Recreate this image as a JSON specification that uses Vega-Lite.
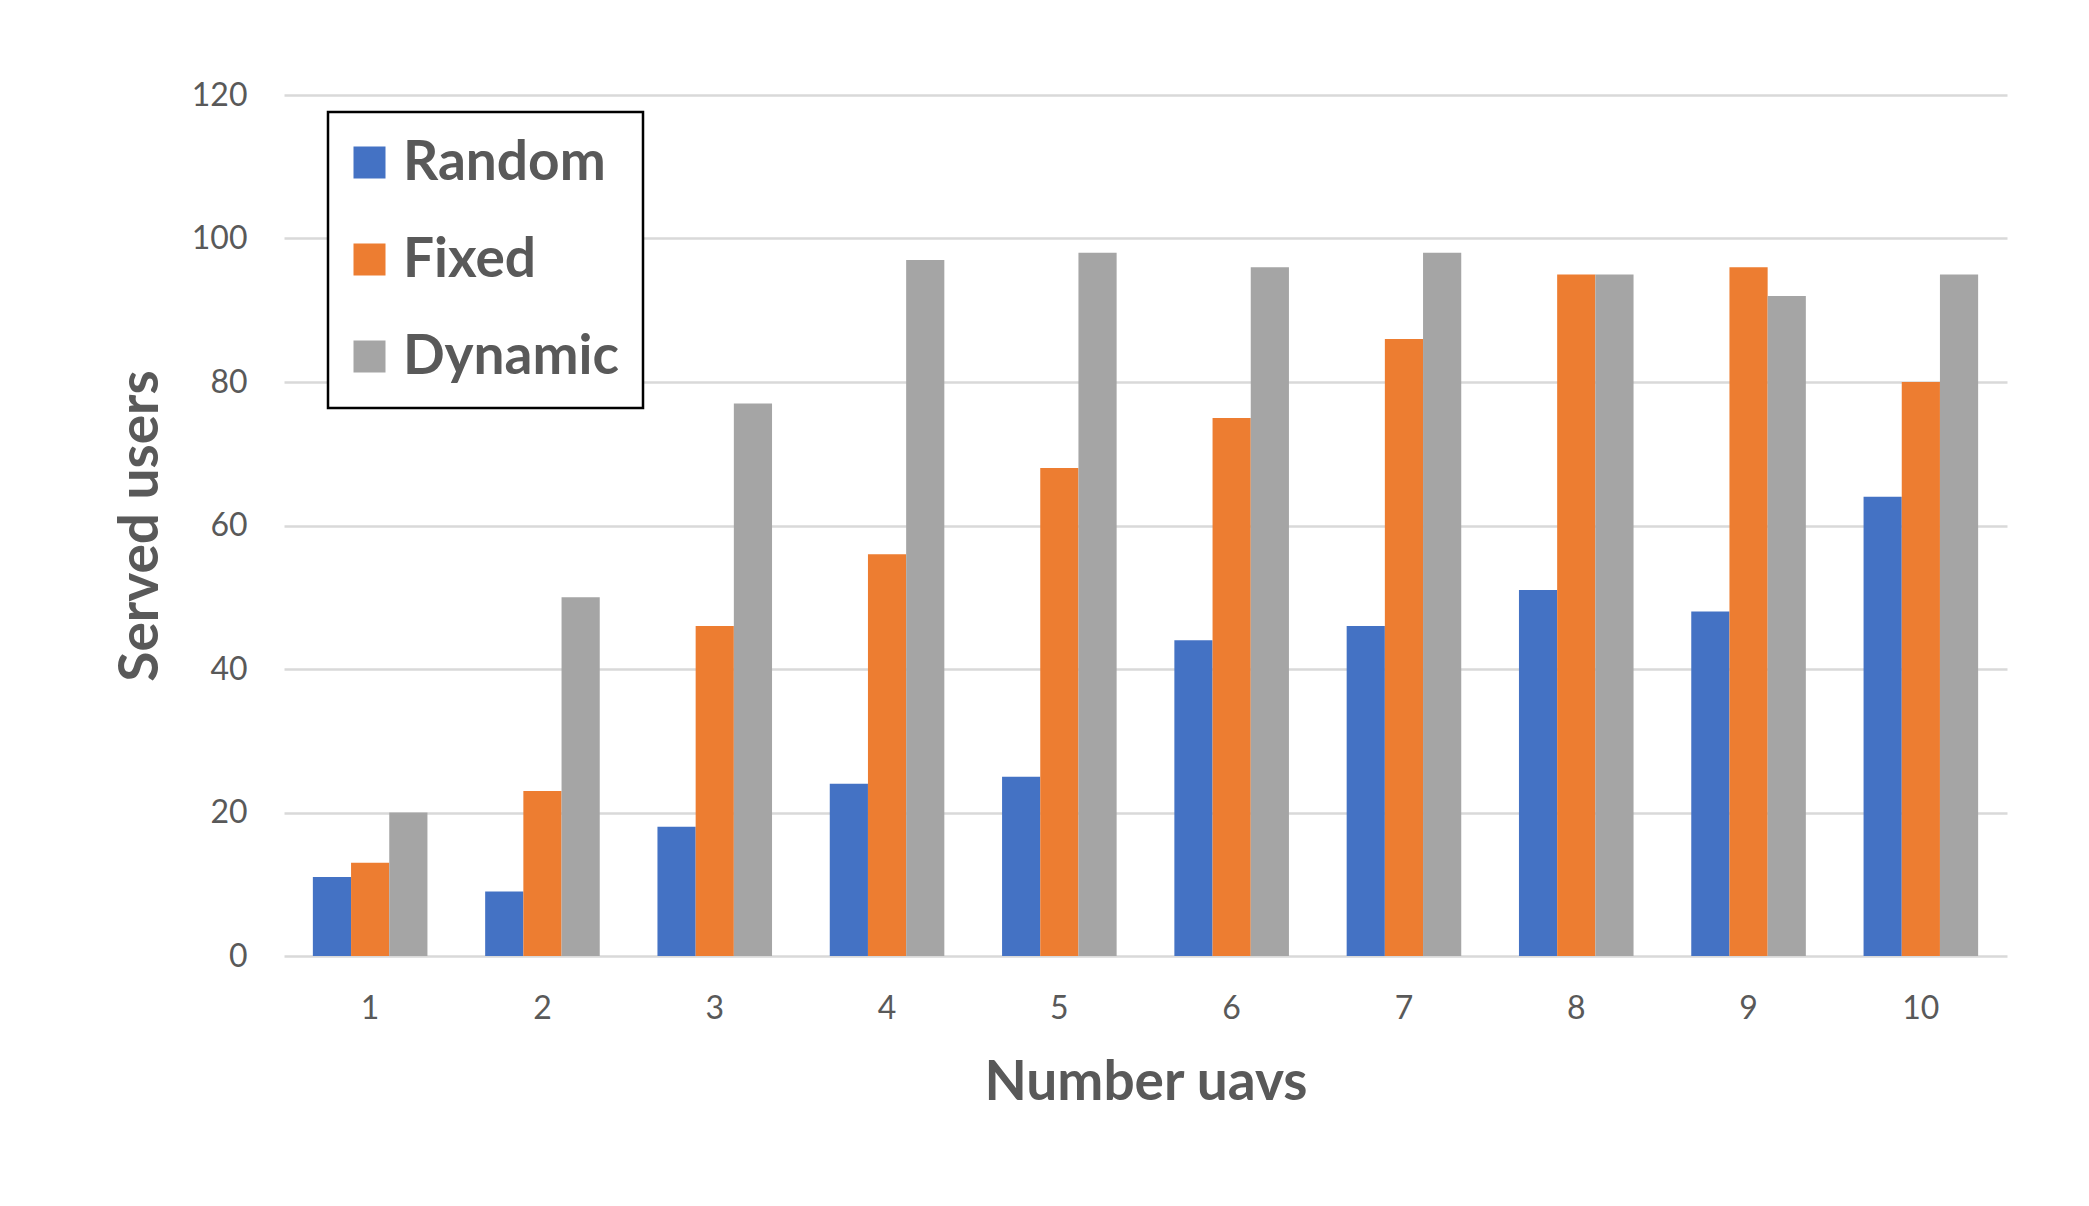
{
  "$schema": "https://vega.github.io/schema/vega-lite/v6.json",
  "autosize": "none",
  "width": 1723,
  "height": 861,
  "padding": {"left": 284, "top": 95, "right": 82, "bottom": 250},
  "background": "white",
  "data": {
    "values": [
      {"uavs": "1", "series": "Random", "users": 11},
      {"uavs": "2", "series": "Random", "users": 9},
      {"uavs": "3", "series": "Random", "users": 18},
      {"uavs": "4", "series": "Random", "users": 24},
      {"uavs": "5", "series": "Random", "users": 25},
      {"uavs": "6", "series": "Random", "users": 44},
      {"uavs": "7", "series": "Random", "users": 46},
      {"uavs": "8", "series": "Random", "users": 51},
      {"uavs": "9", "series": "Random", "users": 48},
      {"uavs": "10", "series": "Random", "users": 64},
      {"uavs": "1", "series": "Fixed", "users": 13},
      {"uavs": "2", "series": "Fixed", "users": 23},
      {"uavs": "3", "series": "Fixed", "users": 46},
      {"uavs": "4", "series": "Fixed", "users": 56},
      {"uavs": "5", "series": "Fixed", "users": 68},
      {"uavs": "6", "series": "Fixed", "users": 75},
      {"uavs": "7", "series": "Fixed", "users": 86},
      {"uavs": "8", "series": "Fixed", "users": 95},
      {"uavs": "9", "series": "Fixed", "users": 96},
      {"uavs": "10", "series": "Fixed", "users": 80},
      {"uavs": "1", "series": "Dynamic", "users": 20},
      {"uavs": "2", "series": "Dynamic", "users": 50},
      {"uavs": "3", "series": "Dynamic", "users": 77},
      {"uavs": "4", "series": "Dynamic", "users": 97},
      {"uavs": "5", "series": "Dynamic", "users": 98},
      {"uavs": "6", "series": "Dynamic", "users": 96},
      {"uavs": "7", "series": "Dynamic", "users": 98},
      {"uavs": "8", "series": "Dynamic", "users": 95},
      {"uavs": "9", "series": "Dynamic", "users": 92},
      {"uavs": "10", "series": "Dynamic", "users": 95}
    ]
  },
  "mark": {"type": "bar"},
  "encoding": {
    "x": {
      "field": "uavs",
      "type": "ordinal",
      "sort": ["1","2","3","4","5","6","7","8","9","10"],
      "scale": {"paddingInner": 0.335, "paddingOuter": 0.1675},
      "axis": {
        "title": "Number uavs",
        "labelAngle": 0,
        "ticks": false,
        "domain": false,
        "labelPadding": 37,
        "labelFontSize": 32,
        "labelFont": "Lato",
        "labelColor": "#595959",
        "titleFont": "Lato",
        "titleFontWeight": "bold",
        "titleFontSize": 55,
        "titleColor": "#595959",
        "titlePadding": 32
      }
    },
    "xOffset": {
      "field": "series",
      "type": "nominal",
      "sort": ["Random", "Fixed", "Dynamic"],
      "scale": {"paddingInner": 0, "paddingOuter": 0}
    },
    "y": {
      "field": "users",
      "type": "quantitative",
      "scale": {"domain": [0, 120]},
      "axis": {
        "title": "Served users",
        "values": [0, 20, 40, 60, 80, 100, 120],
        "ticks": false,
        "domain": false,
        "grid": true,
        "gridColor": "#D9D9D9",
        "labelPadding": 37,
        "labelFontSize": 32,
        "labelFont": "Lato",
        "labelColor": "#595959",
        "titleFont": "Lato",
        "titleFontWeight": "bold",
        "titleFontSize": 55,
        "titleColor": "#595959",
        "titlePadding": 22
      }
    },
    "color": {
      "field": "series",
      "type": "nominal",
      "sort": ["Random", "Fixed", "Dynamic"],
      "scale": {"domain": ["Random", "Fixed", "Dynamic"], "range": ["#4472C4", "#ED7D31", "#A5A5A5"]},
      "legend": {
        "title": null,
        "orient": "none",
        "legendX": 44,
        "legendY": 17,
        "symbolType": "square",
        "symbolSize": 1024,
        "symbolStrokeWidth": 0,
        "symbolOffset": -9,
        "labelFont": "Lato",
        "labelFontWeight": "bold",
        "labelFontSize": 55,
        "labelColor": "#595959",
        "labelLimit": 0,
        "labelOffset": 6,
        "rowPadding": 41,
        "padding": 23,
        "strokeColor": "black",
        "fillColor": "white",
        "encode": {"legend": {"update": {"strokeWidth": {"value": 2.5}}}}
      }
    }
  },
  "config": {
    "view": {"stroke": null},
    "axis": {"gridWidth": 2.5}
  }
}
